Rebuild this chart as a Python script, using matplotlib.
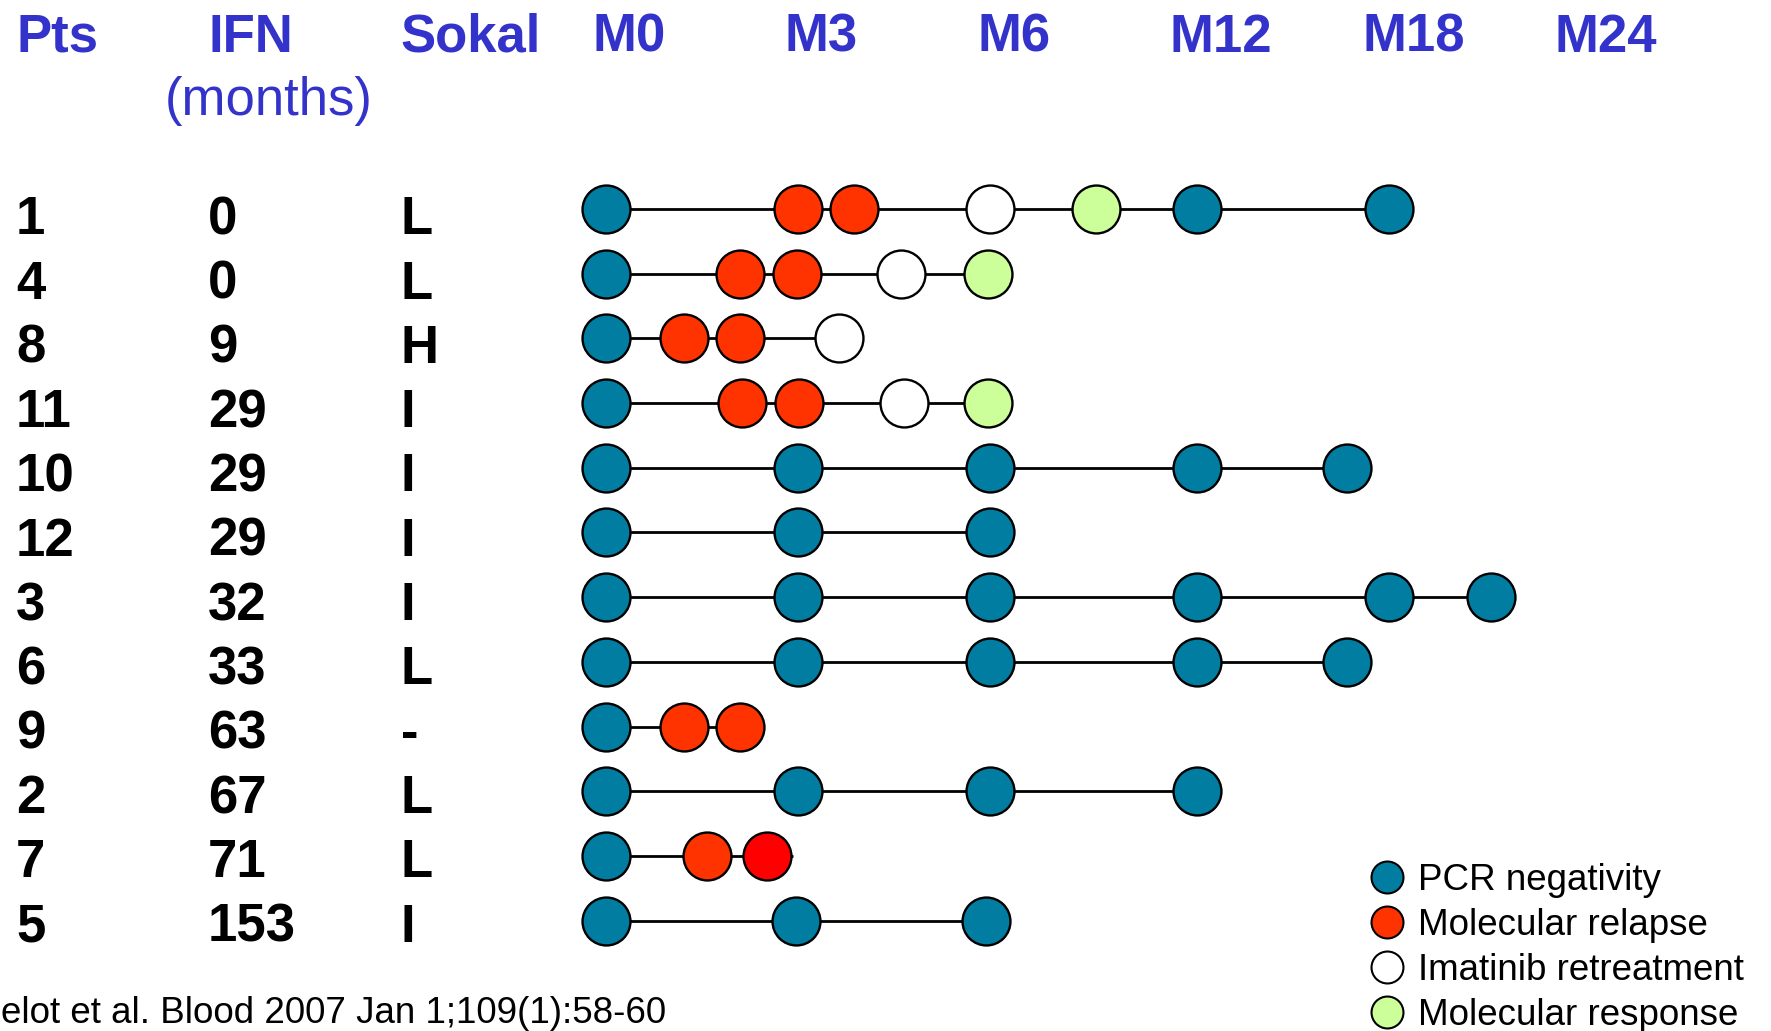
import matplotlib
matplotlib.use("Agg")
import matplotlib.pyplot as plt
from matplotlib.lines import Line2D
from matplotlib.transforms import blended_transform_factory

# Data
patients = ["1", "4", "8", "11", "10", "12", "3", "6", "9", "2", "7", "5"]
ifn_months = ["0", "0", "9", "29", "29", "29", "32", "33", "63", "67", "71", "153"]
sokal = ["L", "L", "H", "I", "I", "I", "I", "L", "-", "L", "L", "I"]
visits = ["M0", "M3", "M6", "M12", "M18", "M24"]

# visit positions in column units (0 = M0, 1 = M3, 2 = M6 ...)
positions = [
    [0, 1.0, 1.29, 2.0, 2.55, 3.08, 4.08],
    [0, 0.70, 0.995, 1.535, 1.99],
    [0, 0.406, 0.70, 1.214],
    [0, 0.71, 1.005, 1.55, 1.99],
    [0, 1.0, 2.0, 3.08, 3.86],
    [0, 1.0, 2.0],
    [0, 1.0, 2.0, 3.08, 4.08, 4.61],
    [0, 1.0, 2.0, 3.08, 3.86],
    [0, 0.406, 0.70],
    [0, 1.0, 2.0, 3.08],
    [0, 0.526, 0.839],
    [0, 0.99, 1.98],
]
# P = PCR negativity, R = molecular relapse, W = imatinib retreatment,
# G = molecular response, X = relapse drawn in pure red
status = ["PRRWGPP", "PRRWG", "PRRW", "PRRWG", "PPPPP", "PPP",
          "PPPPPP", "PPPPP", "PRR", "PPPP", "PRX", "PPP"]
line_end = [None] * 12
line_end[10] = 0.974

colors = {"P": "#007DA0", "R": "#FF3300", "W": "#FFFFFF", "G": "#CCFF99", "X": "#FF0000"}
legend_labels = ["PCR negativity", "Molecular relapse", "Imatinib retreatment", "Molecular response"]
legend_keys = ["P", "R", "W", "G"]

W, H = 1771, 1031
blue = "#3333CC"
plt.rcParams["font.family"] = ["Liberation Sans", "DejaVu Sans"]

fig = plt.figure(figsize=(W / 100, H / 100), dpi=100)
ax = fig.add_axes([0, 0, 1, 1])
ax.axis("off")

# column units: M0 circles at 606 px, one unit = 192 px ; rows at 209 px, 64.7 px apart
x0, unit = 606, 192
y0, rowh = 209, 64.7
ax.set_xlim(-x0 / unit, (W - x0) / unit)
ax.set_ylim((H - y0) / rowh, -y0 / rowh)

for i in range(len(patients)):
    xs = positions[i]
    end = line_end[i] if line_end[i] is not None else xs[-1]
    ax.plot([xs[0], end], [i, i], color="black", lw=2, zorder=1, solid_capstyle="butt")
    for x, s in zip(xs, status[i]):
        ax.plot(x, i, "o", ms=34.5, mfc=colors[s], mec="black", mew=1.7, zorder=2)

# row labels
tr = blended_transform_factory(fig.transFigure, ax.transData)
for i in range(len(patients)):
    yb = i + 0.39 - 0.006 * i
    ax.text(16 / W, yb, patients[i], transform=tr, fontsize=38, fontweight="bold", va="baseline")
    ax.text(208 / W, yb, ifn_months[i], transform=tr, fontsize=38, fontweight="bold", va="baseline")
    ax.text(401 / W, yb, sokal[i], transform=tr, fontsize=38, fontweight="bold", va="baseline")

# header
hy = 1 - 52 / H
fig.text(16 / W, hy, "Pts", color=blue, fontsize=38, fontweight="bold", va="baseline")
fig.text(208 / W, hy, "IFN", color=blue, fontsize=38, fontweight="bold", va="baseline")
fig.text(165 / W, 1 - 115 / H, "(months)", color=blue, fontsize=38, va="baseline")
fig.text(400 / W, hy, "Sokal", color=blue, fontsize=38, fontweight="bold", va="baseline")
for k, v in enumerate(visits):
    fig.text((592 + 192.6 * k) / W, hy, v, color=blue, fontsize=38, fontweight="bold", va="baseline")

# legend
handles = [Line2D([], [], marker="o", ls="", ms=23, mfc=colors[k], mec="black", mew=1.5)
           for k in legend_keys]
ax.legend(handles, legend_labels, loc="upper left", bbox_to_anchor=(1369 / W, 1 - 863 / H),
          bbox_transform=fig.transFigure, frameon=False, fontsize=26.5, borderpad=0,
          borderaxespad=0, handlelength=1.0, handletextpad=0.33, labelspacing=0.27)

fig.text(1 / W, 1 - 1023 / H, "elot et al. Blood 2007 Jan 1;109(1):58-60", fontsize=26.5, va="baseline")

fig.savefig("out.png", dpi=100)
